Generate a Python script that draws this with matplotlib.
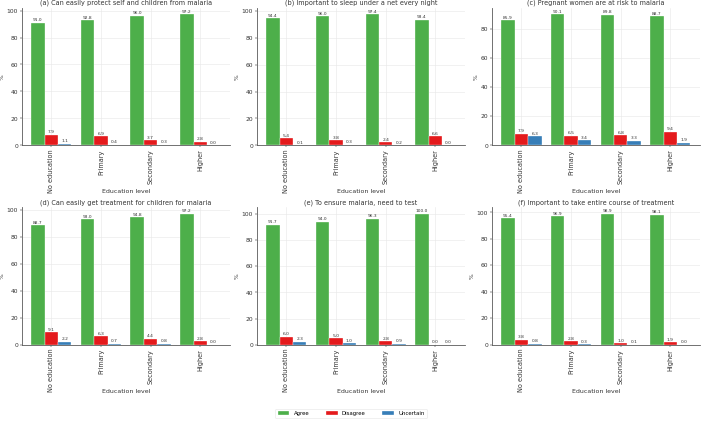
import matplotlib.pyplot as plt
import numpy as np

levels = ["No education", "Primary", "Secondary", "Higher"]
titles = [
    "(a) Can easily protect self and children from malaria",
    "(b) Important to sleep under a net every night",
    "(c) Pregnant women are at risk to malaria",
    "(d) Can easily get treatment for children for malaria",
    "(e) To ensure malaria, need to test",
    "(f) Important to take entire course of treatment",
]
agree = [
    [91.0, 92.8, 96.0, 97.2],
    [94.4, 96.0, 97.4, 93.4],
    [85.9, 90.1, 89.8, 88.7],
    [88.7, 93.0, 94.8, 97.2],
    [91.7, 94.0, 96.3, 100.0],
    [95.4, 96.9, 98.9, 98.1],
]
disagree = [
    [7.9, 6.9, 3.7, 2.8],
    [5.4, 3.8, 2.4, 6.6],
    [7.9, 6.5, 6.8, 9.4],
    [9.1, 6.3, 4.4, 2.8],
    [6.0, 5.0, 2.8, 0.0],
    [3.8, 2.8, 1.0, 1.9],
]
uncertain = [
    [1.1, 0.4, 0.3, 0.0],
    [0.1, 0.3, 0.2, 0.0],
    [6.3, 3.4, 3.3, 1.9],
    [2.2, 0.7, 0.8, 0.0],
    [2.3, 1.0, 0.9, 0.0],
    [0.8, 0.3, 0.1, 0.0],
]
labels = ["Agree", "Disagree", "Uncertain"]
colors = ["#4daf4a", "#e41a1c", "#377eb8"]

x = np.arange(len(levels))
w = 0.27

fig, axes = plt.subplots(2, 3, figsize=(18, 10.8), dpi=39)
fig.subplots_adjust(left=0.031, right=0.997, top=0.981, bottom=0.181,
                    wspace=0.13, hspace=0.45)

for i, ax in enumerate(axes.flat):
    series = [agree[i], disagree[i], uncertain[i]]
    for k, vals in enumerate(series):
        bars = ax.bar(x + (k - 1) * w, vals, w, color=colors[k], label=labels[k],
                      edgecolor="white", linewidth=0.6, zorder=3)
        for b, v in zip(bars, vals):
            ax.text(b.get_x() + b.get_width() / 2, v + 0.5, f"{v:.1f}",
                    ha="center", va="bottom", fontsize=8, color="#333333")
    ax.set_title(titles[i], fontsize=12, color="#333333", pad=6)
    ax.set_xticks(x)
    ax.set_xticklabels(levels, rotation=90, fontsize=12, color="#333333")
    ax.tick_params(axis="y", labelsize=11, labelcolor="#333333")
    ax.set_xlabel("Education level", fontsize=11.5, color="#333333", va="center")
    ax.xaxis.set_label_coords(0.5, -0.335)
    ax.set_ylabel("%", fontsize=11, color="#333333")
    ax.grid(True, color="#e6e6e6", linewidth=1.0, zorder=0)
    ax.set_axisbelow(True)
    for s in ["top", "right"]:
        ax.spines[s].set_visible(False)
    for s in ["left", "bottom"]:
        ax.spines[s].set_color("#555555")
        ax.spines[s].set_linewidth(1.5)

handles, lbls = axes[0, 0].get_legend_handles_labels()
fig.legend(handles, lbls, loc="lower center", bbox_to_anchor=(0.5, 0.0), ncol=3,
           fontsize=10, columnspacing=3, handlelength=2.2, frameon=True,
           edgecolor="#dddddd")

fig.savefig("out.png", dpi=39)
